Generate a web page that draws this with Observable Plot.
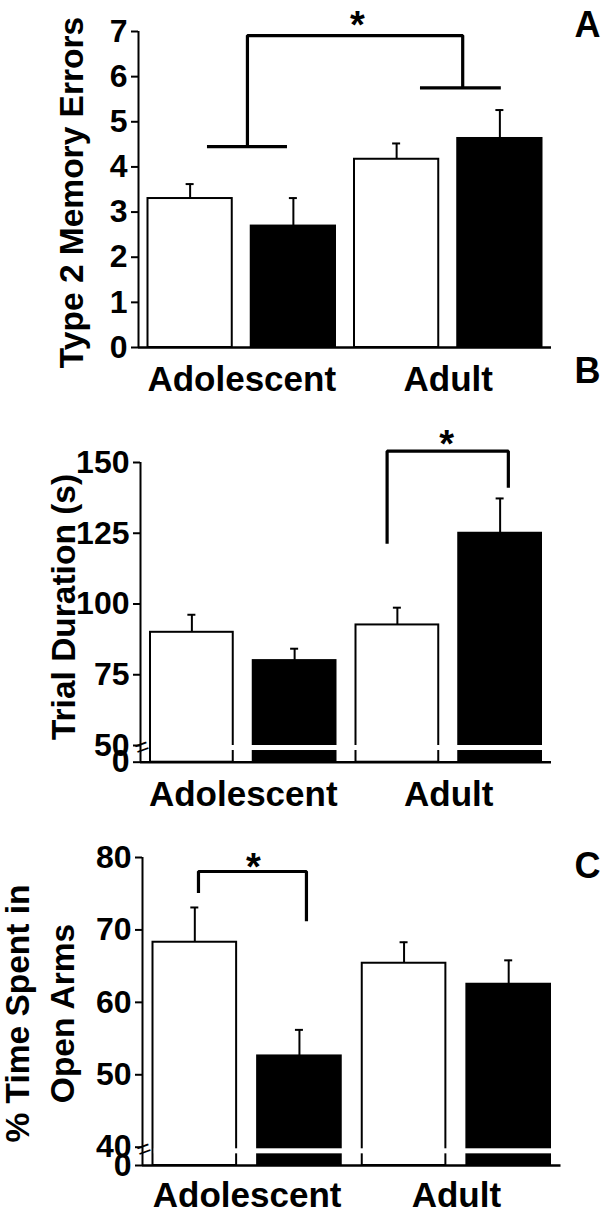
<!DOCTYPE html>
<html>
<head>
<meta charset="utf-8">
<script src="https://cdn.jsdelivr.net/npm/d3@7"></script>
<script src="https://cdn.jsdelivr.net/npm/@observablehq/plot@0.6"></script>
<style>
  html, body { margin: 0; padding: 0; background: #fff; }
  #fig { position: relative; width: 610px; height: 1219px; overflow: hidden; background: #fff; }
  #fig > svg { position: absolute; left: 0; }
</style>
</head>
<body>
<div id="fig"></div>
<script>
// ---------- data ----------
const groups = ["Adolescent", "Adult"];
const treatments = ["Control", "Treated"];          // white bars, black bars
const barGroup = ["Adolescent", "Adolescent", "Adult", "Adult"];
const barTreatment = ["Control", "Treated", "Control", "Treated"];

// Panel A: Type 2 memory errors
const memoryMeans = [3.30, 2.69, 4.17, 4.63];
const memorySEM   = [0.32, 0.62, 0.35, 0.63];
const memoryTicks = [0, 1, 2, 3, 4, 5, 6, 7];

// Panel B: trial duration (s)
const durationMeans = [90.0, 80.0, 92.6, 125.0];
const durationSEM   = [6.2, 4.2, 6.1, 12.3];
const durationTicks = [0, 50, 75, 100, 125, 150];

// Panel C: % time spent in open arms
const openArmMeans = [68.3, 52.6, 65.4, 62.5];
const openArmSEM   = [4.8, 3.6, 2.9, 3.3];
const openArmTicks = [0, 40, 50, 60, 70, 80];

// significance brackets (x in bar-slot units, y in data units)
const bracketA = {x: [1.055, 3.14], top: 6.91, ends: [4.45, 5.75], star: [2.12, 7.33]};
const stubsA = [{x1: 0.668, x2: 1.443, y: 4.45}, {x1: 2.731, x2: 3.514, y: 5.75}];
const bracketB = {x: [2.40, 3.58], top: 154, ends: [121.3, 141.1], star: [2.98, 159.5]};
const bracketC = {x: [0.535, 1.567], top: 78.07, ends: [75.1, 71.2], star: [1.06, 79.9]};

// axis breaks (data units): axis jumps from 0 to `at`
const breakB = {at: 50, band: [35, 50], mark: 44};
const breakC = {at: 40, band: [25.5, 36.5], mark: 35};

const FONT = "'Liberation Sans', Arial, Helvetica, sans-serif";

function panel(cfg) {
  const {means, sems, ticks, yMax, label, letter, bracket, stubs, brk,
         top, H, ml, mr, mt, mb, breakPx, inset, letterBase, labelX, labelY, xPad} = cfg;
  const data = means.map((m, i) => ({
    group: barGroup[i], treatment: barTreatment[i], slot: i, mean: m, sem: sems[i]
  }));
  const y0 = H - mb;
  const span = y0 - mt;
  // broken axis: values below the break are compressed into breakPx pixels
  let lo = 0, T = v => v;
  if (brk) {
    const b = brk.at;
    lo = (b * span - breakPx * yMax) / (span - breakPx);
    T = v => v >= b ? v : lo + (v / b) * (b - lo);
  }
  const tickPos = ticks.map(T);
  const tickLabel = new Map(ticks.map(t => [T(t), String(t)]));
  const frameMid = (mt + y0) / 2;

  const bracketPts = [
    {x: bracket.x[0], y: bracket.ends[0]},
    {x: bracket.x[0], y: bracket.top},
    {x: bracket.x[1], y: bracket.top},
    {x: bracket.x[1], y: bracket.ends[1]}
  ];

  const marks = [
    Plot.rectY(data, {
      x1: "slot", x2: d => d.slot + 1, y1: () => T(0), y2: d => T(d.mean),
      fill: "treatment", stroke: "black", strokeWidth: 2,
      insetLeft: inset, insetRight: inset
    })
  ];
  if (brk) {
    marks.push(Plot.rectY([brk], {
      x1: () => 0, x2: () => 4, y1: d => T(d.band[0]), y2: d => T(d.band[1]),
      fill: "white", insetLeft: inset + 1.3
    }));
  }
  marks.push(
    Plot.ruleX(data, {x: d => d.slot + 0.5, y1: d => T(d.mean), y2: d => T(d.mean + d.sem), strokeWidth: 2}),
    Plot.ruleY(data, {y: d => T(d.mean + d.sem), x1: d => d.slot + 0.5, x2: d => d.slot + 0.5,
                      insetLeft: -4, insetRight: -4, strokeWidth: 2}),
    Plot.ruleY([T(0)], {strokeWidth: 2.5}),
    Plot.ruleX([0], {y1: () => T(0), y2: () => T(yMax), strokeWidth: 2}),
    Plot.axisY({ticks: tickPos, tickFormat: v => tickLabel.get(v), tickSize: 7, tickPadding: 4,
                strokeWidth: 2, fontSize: 32, fontWeight: "bold", label: null}),
    Plot.axisX({ticks: [1, 3], tickFormat: d => groups[(d - 1) / 2], tickSize: 0,
                tickPadding: xPad, fontSize: 35, fontWeight: "bold", label: null}),
    Plot.line(bracketPts, {x: "x", y: d => T(d.y), strokeWidth: 3.2,
                           strokeLinejoin: "miter", strokeLinecap: "butt"}),
    Plot.text([bracket.star], {x: d => d[0], y: d => T(d[1]), text: () => "*",
                               fontSize: 38, fontWeight: "bold", lineAnchor: "middle", dy: 9.5}),
    Plot.text([letter], {text: d => d, frameAnchor: "top-right", textAnchor: "end",
                         lineAnchor: "bottom", dx: 600 - (610 - mr), dy: letterBase - mt,
                         fontSize: 36, fontWeight: "bold"}),
    Plot.text([label], {text: d => d, frameAnchor: "left", rotate: -90,
                        textAnchor: "middle", lineAnchor: "middle", lineHeight: 1.34,
                        dx: labelX - ml, dy: labelY - frameMid,
                        fontSize: 33.5, fontWeight: "bold"})
  );
  if (stubs) {
    marks.push(Plot.ruleY(stubs, {y: d => T(d.y), x1: "x1", x2: "x2", strokeWidth: 3.2}));
  }
  if (brk) {
    marks.push(Plot.text([brk], {x: () => 0, y: d => T(d.mark), text: () => "=",
                                  fontSize: 24, rotate: -20, lineAnchor: "middle",
                                  textAnchor: "middle", dx: 1.5}));
  }

  const svg = Plot.plot({
    width: 610, height: H,
    marginLeft: ml, marginRight: mr, marginTop: mt, marginBottom: mb,
    x: {domain: [0, 4], axis: null},
    y: {domain: [T(0), T(yMax)], axis: null},
    color: {domain: treatments, range: ["white", "black"]},
    style: {background: "transparent", overflow: "visible", fontFamily: FONT, color: "black"},
    marks
  });
  svg.style.top = top + "px";
  svg.style.position = "absolute";
  document.getElementById("fig").appendChild(svg);
}

panel({
  means: memoryMeans, sems: memorySEM, ticks: memoryTicks, yMax: 7,
  label: "Type 2 Memory Errors", letter: "A", bracket: bracketA, stubs: stubsA, brk: null,
  top: 0, H: 400, ml: 138, mr: 59, mt: 31, mb: 53, breakPx: 0, inset: 9.5,
  letterBase: 36.7, labelX: 67.8, labelY: 192, xPad: 19
});
panel({
  means: durationMeans, sems: durationSEM, ticks: durationTicks, yMax: 150,
  label: "Trial Duration (s)", letter: "B", bracket: bracketB, stubs: null, brk: breakB,
  top: 350, H: 465, ml: 140, mr: 59, mt: 112, mb: 53.3, breakPx: 16.7, inset: 10,
  letterBase: 32, labelX: 59.8, labelY: 256.5, xPad: 19
});
panel({
  means: openArmMeans, sems: openArmSEM, ticks: openArmTicks, yMax: 80,
  label: "% Time Spent in\nOpen Arms", letter: "C", bracket: bracketC, stubs: null, brk: breakC,
  top: 815, H: 404, ml: 142, mr: 49.5, mt: 42, mb: 54, breakPx: 18.3, inset: 10.5,
  letterBase: 62, labelX: 36.8, labelY: 198, xPad: 17
});
</script>
</body>
</html>
